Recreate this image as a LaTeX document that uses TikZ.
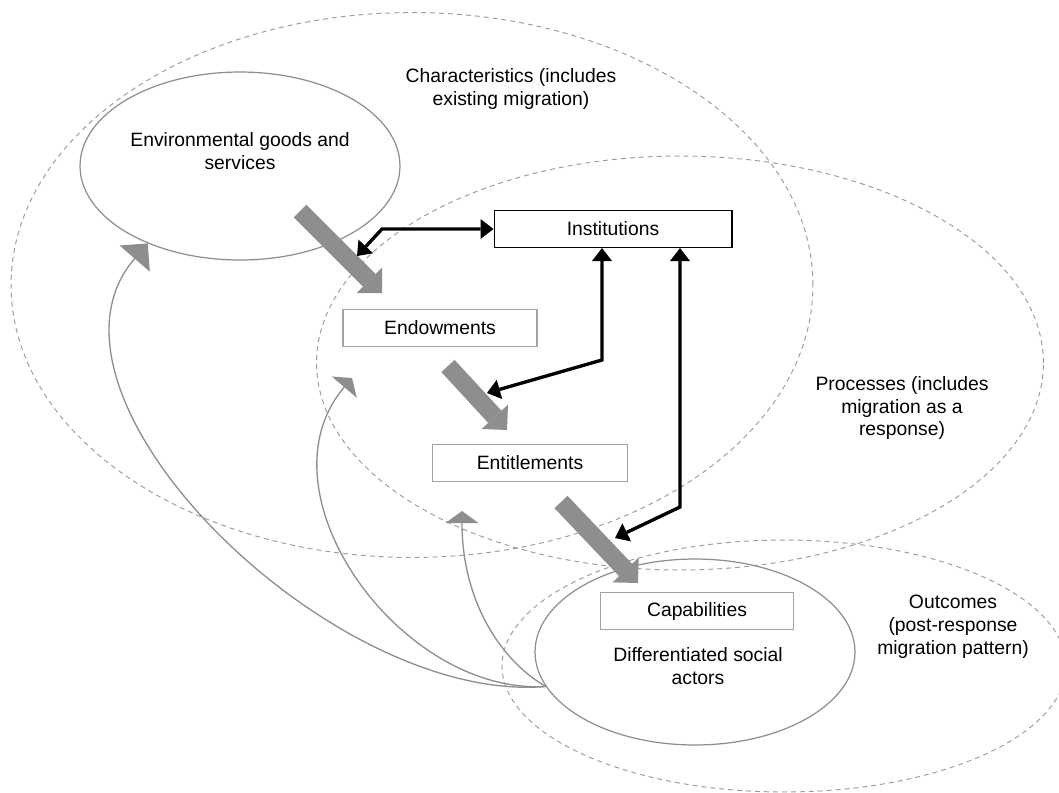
\documentclass[tikz,border=0pt]{standalone}
\usepackage{xcolor}
\usepackage{fontspec}
\setsansfont{Liberation Sans}
\usepackage{tikz}
\usetikzlibrary{shapes.geometric, arrows.meta, positioning, calc}

\definecolor{dashgray}{HTML}{9C9C9C}
\definecolor{linegray}{HTML}{8E8E8E}
\definecolor{boxgray}{HTML}{A2A2A2}
\definecolor{flowgray}{HTML}{8E8E8E}

\begin{document}
\begin{tikzpicture}[
  x=0.02cm, y=-0.02cm,
  txt/.style={font=\fontsize{11}{13}\selectfont\sffamily, align=center},
  zone/.style={ellipse, draw=dashgray, line width=0.55pt, dash pattern=on 2.8pt off 2.3pt, inner sep=0pt},
  actor/.style={ellipse, draw=linegray, line width=0.7pt, inner sep=0pt},
  box/.style={rectangle, draw=boxgray, fill=white, line width=0.6pt, minimum height=0.74cm, inner sep=0pt, txt},
  flow/.style={draw=flowgray, line width=0.36cm, -{Triangle[length=0.36cm, width=0.72cm, line width=0pt]}},
  link/.style={line width=1.9pt, {Triangle[length=0.26cm, width=0.4cm, line width=0pt]}-{Triangle[length=0.26cm, width=0.4cm, line width=0pt]}},
  back/.style={draw=linegray, line width=0.75pt},
]
\useasboundingbox (0,0) rectangle (1059,792);

% dashed zones
\node[zone, minimum width=16.04cm, minimum height=10.9cm] (charzone) at (412,285) {};
\node[zone, minimum width=14.54cm, minimum height=8.28cm] (proczone) at (680,363) {};
\node[zone, minimum width=11.28cm, minimum height=5.04cm] (outzone) at (784,666) {};

\node[txt] (chartxt) at (511,89) {Characteristics (includes\\existing migration)};
\node[txt] (proctxt) at (902,408) {Processes (includes\\migration as a\\response)};
\node[txt] (outtxt) at (953,627) {Outcomes\\(post-response\\migration pattern)};

% solid ellipses
\node[actor, minimum width=6.4cm, minimum height=3.76cm] (env) at (240,166) {};
\node[txt] (envtxt) at (240,151) {Environmental goods and\\services};
\node[actor, minimum width=6.4cm, minimum height=3.72cm] (actors) at (695,652) {};
\node[txt] (actorstxt) at (698,666) {Differentiated social\\actors};

% boxes
\node[box, minimum width=3.88cm] (endow) at (440,328) {Endowments};
\node[box, minimum width=3.9cm] (entit) at (530,463) {Entitlements};
\node[box, minimum width=3.86cm] (capab) at (697,611) {Capabilities};
\node[box, draw=black, minimum width=4.76cm] (inst) at (613,229) {Institutions};

% block arrows
\coordinate (f1s) at (300,211);
\coordinate (f1e) at (382,293);
\coordinate (f2s) at (448,366);
\coordinate (f2e) at (507,430);
\coordinate (f3s) at (561,502);
\coordinate (f3e) at (638,583);
\draw[flow] (f1s) -- (f1e);
\draw[flow] (f2s) -- (f2e);
\draw[flow] (f3s) -- (f3e);

% institution links
\coordinate (l1) at (357,256);
\coordinate (l1k) at (382,229);
\coordinate (l2) at (487,393);
\coordinate (l2k) at (602,360);
\coordinate (l3) at (615,538);
\coordinate (l3k) at (680,507);
\draw[link] (l1) -- (l1k) -- (inst.west);
\draw[link] (l2) -- (l2k) -- (l2k |- inst.south);
\draw[link] (l3) -- (l3k) -- (l3k |- inst.south);

% feedback curves
\coordinate (fb2) at (352,378);
\coordinate (fb3) at (462,511);
\draw[back, -{Triangle[length=0.4cm, width=0.8cm, line width=0pt]}] (actors.193) .. controls (330,705) and (17,395) .. (env.220);
\draw[back, -{Triangle[length=0.24cm, width=0.66cm, line width=0pt]}] (actors.193) .. controls (400,695) and (255,492) .. (fb2);
\draw[back, -{Triangle[length=0.24cm, width=0.66cm, line width=0pt]}] (actors.193) .. controls (500,660) and (462,600) .. (fb3);
\end{tikzpicture}
\end{document}
